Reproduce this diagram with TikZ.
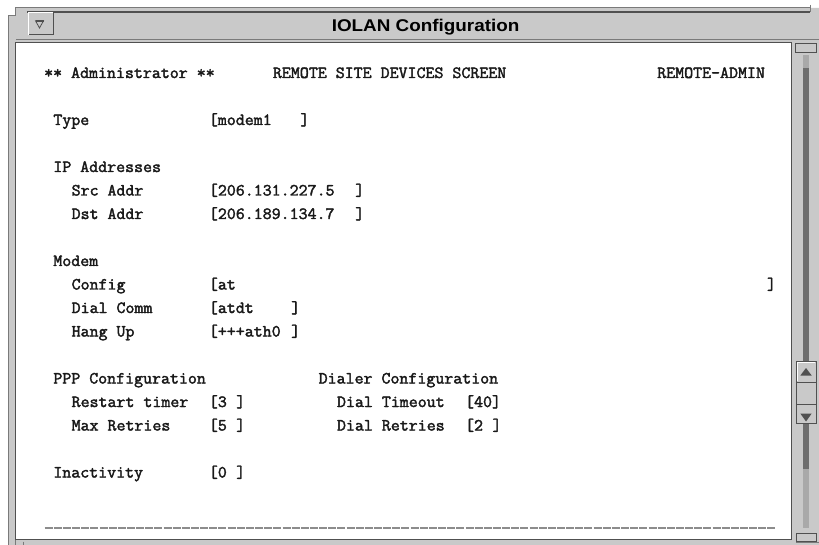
\documentclass[tikz,border=0pt]{standalone}
\usepackage{fontspec}
\newfontfamily\scrfont[FakeStretch=1.025,FakeBold=2.2]{Latin Modern Mono}
\newfontfamily\titlefont[FakeStretch=1.11]{Liberation Sans}
\definecolor{winbg}{HTML}{C9C9C9}
\definecolor{edgedark}{HTML}{505050}
\definecolor{edgemid}{HTML}{7A7A7A}
\definecolor{troughD}{HTML}{6E6E6E}
\definecolor{troughL}{HTML}{A9A9A9}
\definecolor{dashcol}{HTML}{8C8C8C}
\newcommand\scrtxt[4]{\node[scrtext] (#1) at ({44.2+#2*9.15},{125+#3*23.5}) {#4};}
\begin{document}
\begin{tikzpicture}[x=1pt,y=-1pt,
  scrtext/.style={anchor=base west, inner sep=0pt, outer sep=0pt,
    font=\scrfont\fontsize{17}{19}\selectfont, text=black!90},
  titletext/.style={inner sep=0pt, anchor=base,
    font=\titlefont\bfseries\fontsize{17}{19}\selectfont, text=black},
  btn/.style={fill=winbg, draw=edgedark, line width=0.9pt},
  arrowtri/.style={fill=edgedark, draw=none}]
\useasboundingbox (0,0) rectangle (819,545);
\fill[white] (0,0) rectangle (819,545);
% window frame
\fill[winbg] (15,8) -- (819,8) -- (819,545) -- (8,545) -- (8,16) -- (15,16) -- cycle;
\draw[edgemid, line width=1pt] (8,545) -- (8,16) -- (15,16) -- (15,8) -- (810,8);
\draw[edgemid, line width=1pt] (810,5) -- (810,12);
% title bar
\draw[edgedark, line width=2pt] (27,12.3) -- (810,12.3);
\draw[edgemid, line width=1.2pt] (16,39.5) -- (819,39.5);
% menu button
\draw[white, line width=1pt] (28.5,35) -- (28.5,13) -- (53,13);
\draw[edgedark, line width=1pt] (53,13) -- (53,35) -- (28.5,35);
\draw[edgedark, line width=0.8pt] (35.5,20.8) -- (43.5,20.8) -- (39.5,28) -- cycle;
\draw[edgedark, line width=1.6pt] (35.5,21) -- (43.5,21);
\node[titletext] (title) at (425.6,32) {IOLAN Configuration};
% text area
\fill[white] (15.5,42.5) rectangle (791.5,539.5);
\draw[edgedark, line width=1.5pt] (15.5,42.5) rectangle (791.5,539.5);
% bottom corners
\draw[edgemid, line width=1pt] (15,539.5) -- (15,545);
\draw[edgemid, line width=1pt] (23,541.5) -- (23,545);
\draw[edgemid, line width=1pt] (796,542) -- (819,542);
% scrollbar
\draw[btn] (795.5,43) rectangle (816,52);
\fill[troughL] (803,55) rectangle (809,68);
\fill[troughD] (803,68) rectangle (809,361);
\fill[troughD] (803,423) rectangle (809,469);
\fill[troughL] (803,469) rectangle (809,528);
\draw[btn] (796,361.5) rectangle (816,382);
\draw[btn] (796,382) rectangle (816,404);
\draw[btn] (796,404) rectangle (816,423.5);
\draw[white, line width=0.8pt] (797,381) -- (797,362.5) -- (815,362.5);
\fill[arrowtri] (800.3,375.5) -- (811.7,375.5) -- (806,368) -- cycle;
\fill[arrowtri] (800.3,413.5) -- (811.7,413.5) -- (806,421.5) -- cycle;
\draw[btn] (796.3,533.3) rectangle (816.3,541.7);
% screen text
\scrtxt{hdA}{0}{-2}{** Administrator **}
\scrtxt{hdB}{25}{-2}{REMOTE SITE DEVICES SCREEN}
\scrtxt{hdC}{67}{-2}{REMOTE-ADMIN}
\scrtxt{typeL}{1}{0}{Type}
\scrtxt{typeV}{18}{0}{[modem1}
\scrtxt{typeE}{28}{0}{]}
\scrtxt{ipL}{1}{2}{IP Addresses}
\scrtxt{srcL}{3}{3}{Src Addr}
\scrtxt{srcV}{18}{3}{[206.131.227.5}
\scrtxt{srcE}{34}{3}{]}
\scrtxt{dstL}{3}{4}{Dst Addr}
\scrtxt{dstV}{18}{4}{[206.189.134.7}
\scrtxt{dstE}{34}{4}{]}
\scrtxt{modemL}{1}{6}{Modem}
\scrtxt{cfgL}{3}{7}{Config}
\scrtxt{cfgV}{18}{7}{[at}
\scrtxt{cfgE}{79}{7}{]}
\scrtxt{dialL}{3}{8}{Dial Comm}
\scrtxt{dialV}{18}{8}{[atdt}
\scrtxt{dialE}{27}{8}{]}
\scrtxt{hangL}{3}{9}{Hang Up}
\scrtxt{hangV}{18}{9}{[+++ath0}
\scrtxt{hangE}{27}{9}{]}
\scrtxt{pppL}{1}{11}{PPP Configuration}
\scrtxt{dlrL}{30}{11}{Dialer Configuration}
\scrtxt{rstL}{3}{12}{Restart timer}
\scrtxt{rstV}{18}{12}{[3}
\scrtxt{rstE}{21}{12}{]}
\scrtxt{dtoL}{32}{12}{Dial Timeout}
\scrtxt{dtoV}{46}{12}{[40]}
\scrtxt{maxL}{3}{13}{Max Retries}
\scrtxt{maxV}{18}{13}{[5}
\scrtxt{maxE}{21}{13}{]}
\scrtxt{drtL}{32}{13}{Dial Retries}
\scrtxt{drtV}{46}{13}{[2}
\scrtxt{drtE}{49}{13}{]}
\scrtxt{inaL}{1}{15}{Inactivity}
\scrtxt{inaV}{18}{15}{[0}
\scrtxt{inaE}{21}{15}{]}
% bottom rule
\coordinate (ruleA) at (44.6,528.3);
\coordinate (ruleB) at (776.2,528.3);
\draw[dashcol, line width=1.8pt, dash pattern=on 8pt off 1.15pt] (ruleA) -- (ruleB);
\end{tikzpicture}
\end{document}
